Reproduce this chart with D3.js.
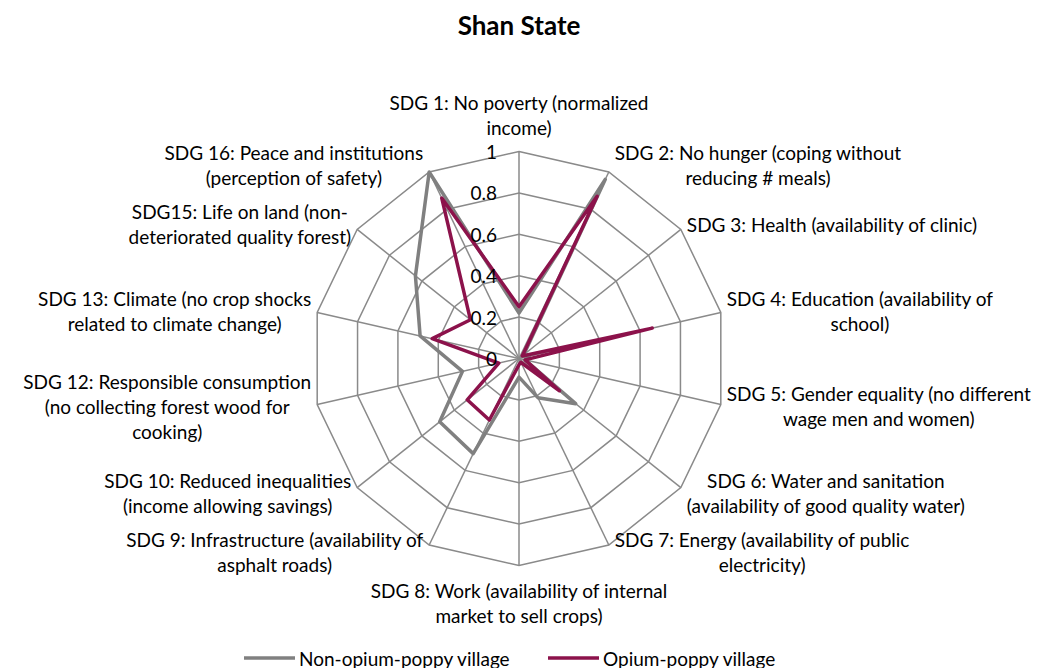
<!DOCTYPE html>
<html>
<head>
<meta charset="utf-8">
<script src="https://cdn.jsdelivr.net/npm/d3@7"></script>
<style>
  html, body { margin: 0; padding: 0; background: #fff; }
  svg text { font-family: Lato, "Liberation Sans", sans-serif; fill: #000; }
</style>
</head>
<body>
<svg id="chart" width="1050" height="668"></svg>
<script>
// ---- data ----
const categories = [
  ["SDG 1: No poverty (normalized", "income)"],
  ["SDG 2: No hunger (coping without", "reducing # meals)"],
  ["SDG 3: Health (availability of clinic)"],
  ["SDG 4: Education (availability of", "school)"],
  ["SDG 5: Gender equality (no different", "wage men and women)"],
  ["SDG 6: Water and sanitation", "(availability of good quality water)"],
  ["SDG 7: Energy (availability of public", "electricity)"],
  ["SDG 8: Work (availability of internal", "market to sell crops)"],
  ["SDG 9: Infrastructure (availability of", "asphalt roads)"],
  ["SDG 10: Reduced inequalities", "(income allowing savings)"],
  ["SDG 12: Responsible consumption", "(no collecting forest wood for", "cooking)"],
  ["SDG 13: Climate (no crop shocks", "related to climate change)"],
  ["SDG15: Life on land (non-", "deteriorated quality forest)"],
  ["SDG 16: Peace and institutions", "(perception of safety)"]
];
const nonOpiumValues = [0.22, 0.96, 0.03, 0.05, 0.03, 0.35, 0.21, 0.09, 0.51, 0.49, 0.28, 0.49, 0.64, 1.00];
const opiumValues    = [0.25, 0.87, 0.02, 0.66, 0.03, 0.25, 0.02, 0.03, 0.33, 0.32, 0.10, 0.43, 0.30, 0.86];
const tickValues = [0, 0.2, 0.4, 0.6, 0.8, 1];
const tickLabels = ["0", "0.2", "0.4", "0.6", "0.8", "1"];
const seriesNames = ["Non-opium-poppy village", "Opium-poppy village"];
const title = "Shan State";

// ---- layout ----
const cx = 519, cy = 358.5, R = 207;
const colors = ["#808080", "#8c124b"];
const gridColor = "#8a8a8a";
const fontSize = 19, lineH = 25;

const svg = d3.select("#chart");
const n = categories.length;
const angle = d3.scaleLinear().domain([0, n]).range([0, 2 * Math.PI]);
const r = d3.scaleLinear().domain([0, 1]).range([0, R]);
const pt = (i, v) => [cx + r(v) * Math.sin(angle(i)), cy - r(v) * Math.cos(angle(i))];

// title
svg.append("text").attr("x", cx).attr("y", 35).attr("text-anchor", "middle")
  .style("font-size", "26px").style("font-weight", "bold").text(title);

const g = svg.append("g");

// grid rings
const ringLine = d3.line().curve(d3.curveLinearClosed);
tickValues.filter(t => t > 0).forEach(t => {
  g.append("path").attr("d", ringLine(d3.range(n).map(i => pt(i, t))))
    .attr("fill", "none").attr("stroke", gridColor).attr("stroke-width", 1.5);
});
// spokes
d3.range(n).forEach(i => {
  const [x, y] = pt(i, 1);
  g.append("line").attr("x1", cx).attr("y1", cy).attr("x2", x).attr("y2", y)
    .attr("stroke", gridColor).attr("stroke-width", 1.5);
});

// series
[nonOpiumValues, opiumValues].forEach((vals, s) => {
  g.append("path").attr("d", ringLine(vals.map((v, i) => pt(i, v))))
    .attr("fill", "none").attr("stroke", colors[s]).attr("stroke-width", 3.5)
    .attr("stroke-linejoin", "round");
});

// tick labels
tickValues.forEach((t, k) => {
  g.append("text").attr("x", cx - 22).attr("y", cy - r(t)).attr("text-anchor", "end")
    .attr("dominant-baseline", "central").style("font-size", fontSize + "px").text(tickLabels[k]);
});

// category labels
categories.forEach((lines, i) => {
  const a = angle(i), s = Math.sin(a), c = Math.cos(a);
  const [vx, vy] = pt(i, 1);
  const t = g.append("text").attr("text-anchor", "middle").style("font-size", fontSize + "px");
  lines.forEach((ln, j) => t.append("tspan").text(ln));
  const w = d3.max(t.selectAll("tspan").nodes(), nd => nd.getComputedTextLength());
  const h = lines.length * lineH;
  let bx, by;
  if (Math.abs(s) < 0.1) {
    bx = vx;
    by = c > 0 ? vy - h / 2 - 12 : vy + h / 2 + 12;
  } else {
    bx = vx + Math.sign(s) * (w / 2 + 6);
    by = vy - c * 8;
  }
  t.selectAll("tspan").attr("x", bx)
    .attr("y", (d, j) => by - h / 2 + lineH / 2 + j * lineH)
    .attr("dominant-baseline", "central");
});

// legend
const legY = 658;
const legItems = [{x: 244, name: seriesNames[0], c: colors[0]}, {x: 548, name: seriesNames[1], c: colors[1]}];
legItems.forEach(it => {
  svg.append("line").attr("x1", it.x).attr("x2", it.x + 51).attr("y1", legY).attr("y2", legY)
    .attr("stroke", it.c).attr("stroke-width", 3.5);
  svg.append("text").attr("x", it.x + 55).attr("y", legY).attr("dominant-baseline", "central")
    .style("font-size", fontSize + "px").text(it.name);
});
</script>
</body>
</html>
